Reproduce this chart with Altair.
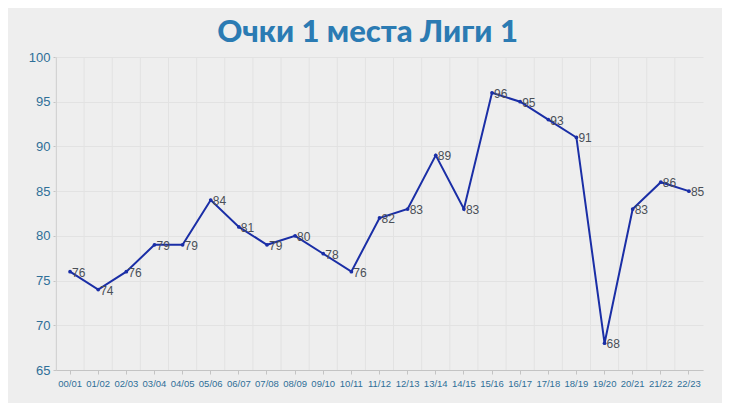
import altair as alt
import pandas as pd

seasons = ["00/01", "01/02", "02/03", "03/04", "04/05", "05/06", "06/07", "07/08",
           "08/09", "09/10", "10/11", "11/12", "12/13", "13/14", "14/15", "15/16",
           "16/17", "17/18", "18/19", "19/20", "20/21", "21/22", "22/23"]
points = [76, 74, 76, 79, 79, 84, 81, 79, 80, 78, 76, 82, 83, 89, 83, 96,
          95, 93, 91, 68, 83, 86, 85]
y_ticks = [65, 70, 75, 80, 85, 90, 95, 100]

df = pd.DataFrame({"season": seasons, "pts": points})

xscale = alt.Scale(domain=seasons, paddingInner=0, paddingOuter=0)
yscale = alt.Scale(domain=[65, 100], nice=False, zero=False)

xaxis = alt.Axis(title=None, labelAngle=0, labelFontSize=9.5,
                 labelColor="#2f6f98", labelFont="Arial, Liberation Sans",
                 grid=False, domainColor="#c4c4c4", tickColor="#c4c4c4",
                 tickSize=4, labelPadding=4)
yaxis = alt.Axis(title=None, values=y_ticks, labelFontSize=13,
                 labelColor="#2f6f98", labelFont="Arial, Liberation Sans",
                 gridColor="#e2e2e2", domainColor="#c4c4c4",
                 tickColor="#c4c4c4", tickSize=3, labelPadding=3)

base = alt.Chart(df)

grid_v = base.mark_rule(color="#e2e2e2", strokeWidth=1).encode(
    x=alt.X("season:N", bandPosition=0, scale=xscale, axis=xaxis),
)

line = base.mark_line(color="#1a2ea6", strokeWidth=2).encode(
    x=alt.X("season:N", scale=xscale, sort=seasons, axis=xaxis),
    y=alt.Y("pts:Q", scale=yscale, axis=yaxis),
)

pts_mark = base.mark_point(filled=True, color="#1a2ea6", size=14, opacity=1).encode(
    x=alt.X("season:N", scale=xscale, axis=xaxis),
    y=alt.Y("pts:Q", scale=yscale, axis=yaxis),
)

labels = base.mark_text(align="left", baseline="middle", dx=2, dy=1, fontSize=12,
                        color="#4a4f57", font="Arial, Liberation Sans").encode(
    x=alt.X("season:N", scale=xscale, axis=xaxis),
    y=alt.Y("pts:Q", scale=yscale, axis=yaxis),
    text="pts:Q",
)

chart = alt.layer(grid_v, line, pts_mark, labels).properties(
    width=647, height=313,
    autosize=alt.AutoSizeParams(type="none"),
    padding={"left": 48, "top": 49, "right": 19, "bottom": 33},
    background="#eeeeee",
    title=alt.TitleParams("Очки 1 места Лиги 1", fontSize=31, font="Lato",
                          fontWeight=900, color="#2b7bb3", anchor="middle",
                          offset=2, dx=-12),
).configure_view(stroke=None)

chart.save("out.html", embed_options={"renderer": "svg", "actions": False})
